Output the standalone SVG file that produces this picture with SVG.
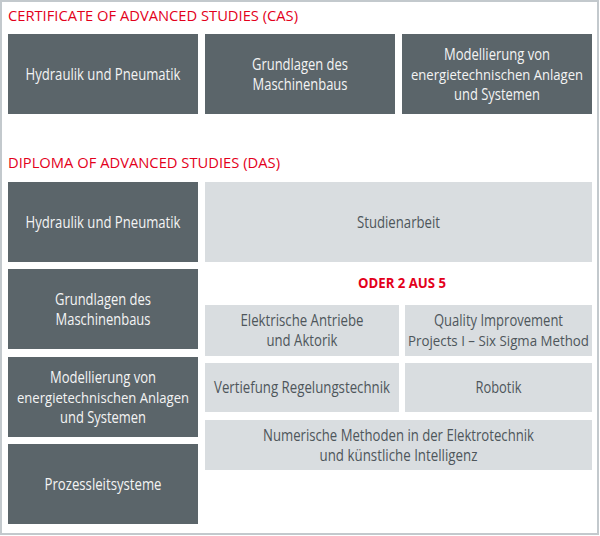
<svg xmlns="http://www.w3.org/2000/svg" width="600" height="536" viewBox="0 0 600 536">
<style>
.dark{fill:#5b656a}
.light{fill:#d9dde0}
text{font-family:"Open Sans","Noto Sans",sans-serif;font-size:15.5px;text-anchor:middle}
.dt{fill:#f4f4f4}
.lt{fill:#4e565b}
.w{font-size:14.5px}
.h{fill:#e3001b;text-anchor:start;font-size:15px}
.or{fill:#e3001b;font-weight:bold;font-size:13.5px}
</style>
<rect x="1" y="1" width="597" height="533" fill="#ffffff" stroke="#c3c9cd" stroke-width="2"/>
<text class="h" x="8" y="21" textLength="290" lengthAdjust="spacingAndGlyphs">CERTIFICATE OF ADVANCED STUDIES (CAS)</text>
<g id="cas1"><rect class="dark" x="8" y="34" width="190" height="80"/><text class="dt" x="103" y="80" textLength="155" lengthAdjust="spacingAndGlyphs">Hydraulik und Pneumatik</text></g>
<g id="cas2"><rect class="dark" x="205" y="34" width="190" height="80"/><text class="dt" x="300" y="69.5" textLength="96" lengthAdjust="spacingAndGlyphs">Grundlagen des</text><text class="dt" x="300" y="89.5" textLength="95" lengthAdjust="spacingAndGlyphs">Maschinenbaus</text></g>
<g id="cas3"><rect class="dark" x="402" y="34" width="190" height="80"/><text class="dt" x="497" y="60" textLength="106" lengthAdjust="spacingAndGlyphs">Modellierung von</text><text class="dt w" x="497" y="80" textLength="172" lengthAdjust="spacingAndGlyphs">energietechnischen Anlagen</text><text class="dt" x="497" y="100" textLength="86" lengthAdjust="spacingAndGlyphs">und Systemen</text></g>
<text class="h" x="8" y="168" textLength="272" lengthAdjust="spacingAndGlyphs">DIPLOMA OF ADVANCED STUDIES (DAS)</text>
<g id="das1"><rect class="dark" x="8" y="182" width="190" height="80"/><text class="dt" x="103" y="227.5" textLength="155" lengthAdjust="spacingAndGlyphs">Hydraulik und Pneumatik</text></g>
<g id="das2"><rect class="dark" x="8" y="269" width="190" height="80"/><text class="dt" x="103" y="304.5" textLength="96" lengthAdjust="spacingAndGlyphs">Grundlagen des</text><text class="dt" x="103" y="324.5" textLength="95" lengthAdjust="spacingAndGlyphs">Maschinenbaus</text></g>
<g id="das3"><rect class="dark" x="8" y="357" width="190" height="80"/><text class="dt" x="103" y="383" textLength="106" lengthAdjust="spacingAndGlyphs">Modellierung von</text><text class="dt w" x="103" y="403" textLength="172" lengthAdjust="spacingAndGlyphs">energietechnischen Anlagen</text><text class="dt" x="103" y="423" textLength="86" lengthAdjust="spacingAndGlyphs">und Systemen</text></g>
<g id="das4"><rect class="dark" x="8" y="444" width="190" height="80"/><text class="dt" x="103" y="489.5" textLength="117" lengthAdjust="spacingAndGlyphs">Prozessleitsysteme</text></g>
<g id="studienarbeit"><rect class="light" x="205" y="182" width="387" height="80"/><text class="lt" x="398.5" y="227.5" textLength="83" lengthAdjust="spacingAndGlyphs">Studienarbeit</text></g>
<text class="or" x="402" y="288" textLength="88" lengthAdjust="spacingAndGlyphs">ODER 2 AUS 5</text>
<g id="elektrische"><rect class="light" x="205" y="305" width="194" height="51"/><text class="lt" x="302" y="326" textLength="123" lengthAdjust="spacingAndGlyphs">Elektrische Antriebe</text><text class="lt" x="302" y="346" textLength="71" lengthAdjust="spacingAndGlyphs">und Aktorik</text></g>
<g id="quality"><rect class="light" x="405" y="305" width="187" height="51"/><text class="lt" x="498.5" y="326" textLength="129" lengthAdjust="spacingAndGlyphs">Quality Improvement</text><text class="lt w" x="498.5" y="346" textLength="181" lengthAdjust="spacingAndGlyphs">Projects I – Six Sigma Method</text></g>
<g id="vertiefung"><rect class="light" x="205" y="363" width="194" height="49"/><text class="lt" x="302" y="393" textLength="176" lengthAdjust="spacingAndGlyphs">Vertiefung Regelungstechnik</text></g>
<g id="robotik"><rect class="light" x="405" y="363" width="187" height="49"/><text class="lt" x="498.5" y="393" textLength="46" lengthAdjust="spacingAndGlyphs">Robotik</text></g>
<g id="numerische"><rect class="light" x="205" y="420" width="387" height="50"/><text class="lt" x="398.5" y="440.5" textLength="271" lengthAdjust="spacingAndGlyphs">Numerische Methoden in der Elektrotechnik</text><text class="lt" x="398.5" y="460.5" textLength="158" lengthAdjust="spacingAndGlyphs">und künstliche Intelligenz</text></g>
<g id="connectors"/>
</svg>
